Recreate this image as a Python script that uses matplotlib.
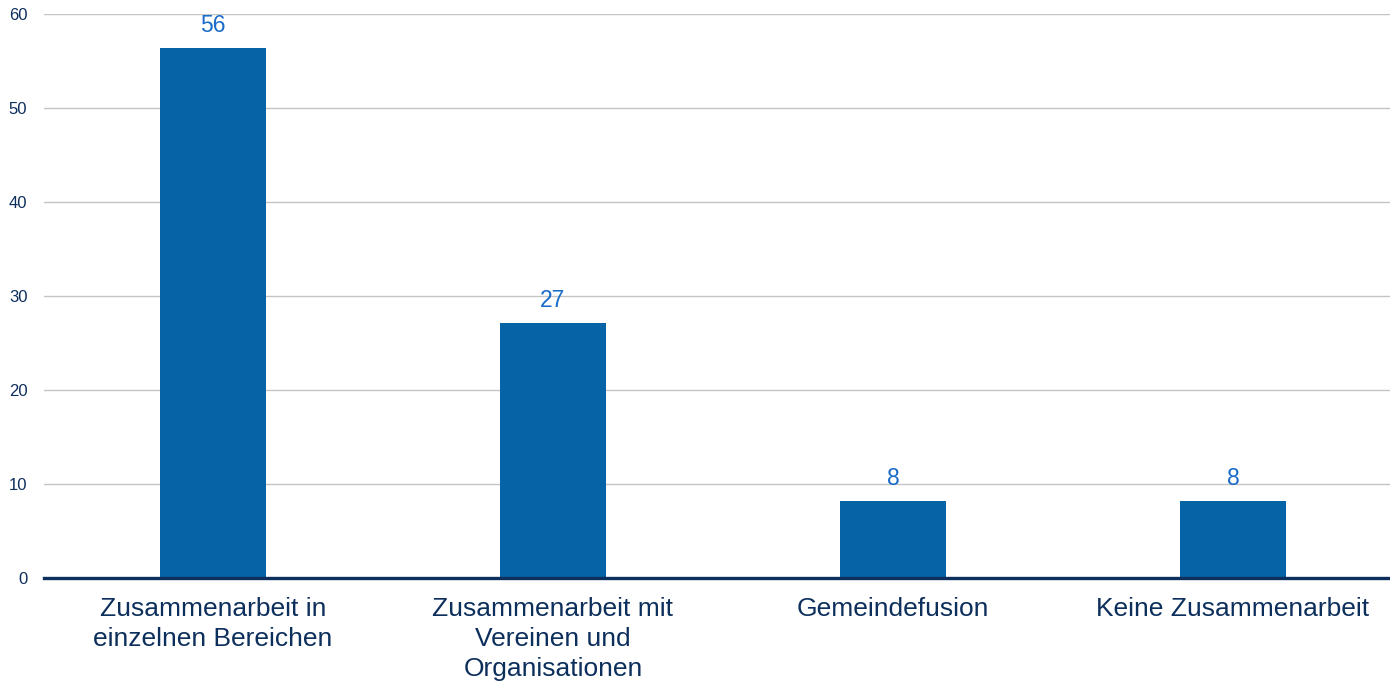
import numpy as np
import matplotlib.pyplot as plt

plt.rcParams['font.family'] = ['Liberation Sans', 'DejaVu Sans']

categories = ['Zusammenarbeit in\neinzelnen Bereichen',
              'Zusammenarbeit mit\nVereinen und\nOrganisationen',
              'Gemeindefusion',
              'Keine Zusammenarbeit']
values = [56.4, 27.1, 8.2, 8.2]
labels = ['56', '27', '8', '8']
yticks = [0, 10, 20, 30, 40, 50, 60]

bar_color = '#0563a6'
navy = '#0d2f5c'
label_blue = '#1a6cc8'

fig = plt.figure(figsize=(13.9, 6.88), dpi=100)
ax = fig.add_axes([44 / 1390, 1 - 578 / 688, 1346 / 1390, 564 / 688])

x = np.arange(len(categories))
bars = ax.bar(x, values, width=0.31, color=bar_color, zorder=2)

for b, lab in zip(bars, labels):
    ax.annotate(lab, (b.get_x() + b.get_width() / 2, b.get_height()),
                xytext=(0, 8), textcoords='offset points',
                ha='center', va='bottom', fontsize=16.5, color=label_blue)

ax.set_xlim(-0.497, -0.497 + 1346 / 340)
ax.set_ylim(0, 60)
ax.set_yticks(yticks)
ax.set_xticks(x)
ax.set_xticklabels(categories, fontsize=19, color=navy, linespacing=1.3)
ax.tick_params(axis='x', length=0, pad=14)
ax.tick_params(axis='y', length=0, pad=12, labelsize=12, labelcolor=navy)

ax.grid(axis='y', color='#c4c4c4', linewidth=1, zorder=0)
for s in ['top', 'right', 'left']:
    ax.spines[s].set_visible(False)
ax.spines['bottom'].set_color(navy)
ax.spines['bottom'].set_linewidth(2.4)
ax.spines['bottom'].set_zorder(3)

plt.savefig('out.png', dpi=100)
